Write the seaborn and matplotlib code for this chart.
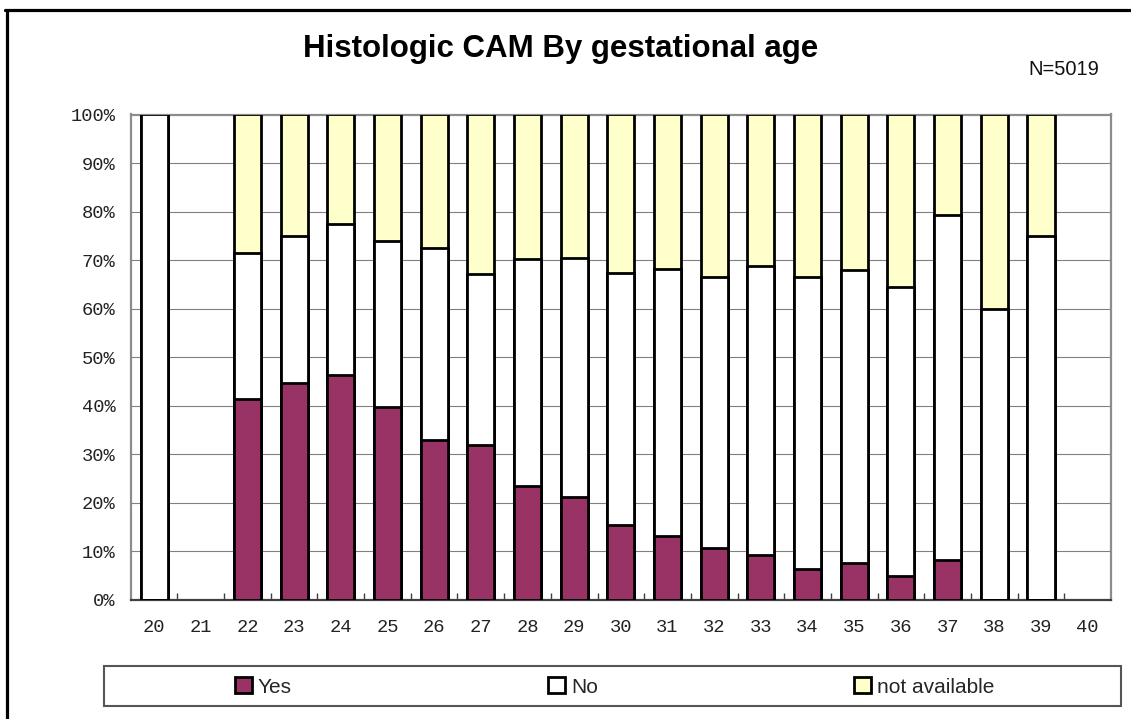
import matplotlib
matplotlib.use("Agg")
import matplotlib.pyplot as plt
import seaborn as sns
import pandas as pd
import numpy as np
from matplotlib.patches import Patch, Rectangle
from matplotlib.lines import Line2D
from matplotlib.ticker import FixedLocator, PercentFormatter

# ---- data (percent) ----
weeks = [str(w) for w in range(20, 41)]
present = ["20", "22", "23", "24", "25", "26", "27", "28", "29", "30",
           "31", "32", "33", "34", "35", "36", "37", "38", "39"]
yes_pct = [0.0, 41.3, 44.7, 46.3, 39.7, 33.0, 32.0, 23.5, 21.3, 15.4,
           13.2, 10.7, 9.3, 6.3, 7.6, 5.0, 8.2, 0.0, 0.0]
no_pct = [100.0, 30.1, 30.2, 31.2, 34.3, 39.6, 35.2, 46.7, 49.1, 52.0,
          54.9, 55.9, 59.5, 60.3, 60.3, 59.4, 71.0, 59.9, 75.0]
na_pct = [100.0 - y - n for y, n in zip(yes_pct, no_pct)]
series_names = ["Yes", "No", "not available"]
series_colors = ["#993366", "#FFFFFF", "#FFFFCC"]
title_text = "Histologic CAM By gestational age"
n_text = "N=5019"

df = pd.DataFrame({"week": present, "Yes": yes_pct, "No": no_pct,
                   "NA": na_pct})
df["cum_yes"] = df["Yes"]
df["cum_no"] = df["Yes"] + df["No"]
df["cum_na"] = df["Yes"] + df["No"] + df["NA"]

sns.set_style("white")
plt.rcParams["font.family"] = ["Liberation Sans", "DejaVu Sans"]

W, H = 1131, 719
fig = plt.figure(figsize=(W / 100, H / 100), dpi=100)
fig.patch.set_facecolor("white")

left, right, top, bottom = 130.7, 1111, 114.5, 600
ax = fig.add_axes([left / W, 1 - bottom / H, (right - left) / W, (bottom - top) / H])

bar_kw = dict(order=weeks, width=0.58, edgecolor="black", linewidth=2.0,
              saturation=1, ax=ax, zorder=3)
for col, c in zip(["cum_na", "cum_no", "cum_yes"], series_colors[::-1]):
    sns.barplot(data=df, x="week", y=col, color=c, **bar_kw)

ax.set_xlim(-0.5, len(weeks) - 0.5)
ax.set_ylim(0, 100)
ax.set_xlabel("")
ax.set_ylabel("")

# gridlines
ax.yaxis.set_major_locator(FixedLocator(np.arange(0, 101, 10)))
ax.yaxis.set_major_formatter(PercentFormatter(decimals=0))
ax.grid(axis="y", color="#808080", linewidth=0.8, zorder=0)
ax.grid(axis="x", visible=False)
ax.set_axisbelow(True)

# spines
for s in ["top", "right", "left"]:
    ax.spines[s].set_visible(True)
    ax.spines[s].set_color("#8c8c8c")
    ax.spines[s].set_linewidth(1.6)
ax.spines["bottom"].set_color("#404040")
ax.spines["bottom"].set_linewidth(1.6)

mono = "Liberation Mono"
ax.tick_params(axis="y", which="major", direction="out", length=3, width=1,
               color="#404040", pad=8, labelsize=13.5, labelcolor="#222222")
ax.tick_params(axis="x", which="major", length=0, pad=14, labelsize=13.5,
               labelcolor="#222222")
ax.set_xticks(np.arange(len(weeks)))
ax.set_xticklabels(weeks)
ax.xaxis.set_minor_locator(FixedLocator(np.arange(0.5, len(weeks) - 1, 1)))
ax.tick_params(axis="x", which="minor", direction="in", length=5, width=1,
               color="#404040", bottom=True)
for lab in ax.get_xticklabels() + ax.get_yticklabels():
    lab.set_fontfamily(mono)

# title and N
fig.text(561 / W, 1 - 57 / H, title_text, ha="center", va="baseline",
         fontsize=22.5, fontweight="bold", color="black")
fig.text(1099 / W, 1 - 75 / H, n_text, ha="right", va="baseline",
         fontsize=14.5, color="#111111")

# legend
handles = [Patch(facecolor=c, edgecolor="black", linewidth=2.0)
           for c in series_colors]
fig.legend(handles, series_names, loc="center left",
           bbox_to_anchor=(235 / W, 1 - 687 / H), ncol=3, frameon=False,
           handlelength=0.8, handleheight=0.8, handletextpad=0.3,
           columnspacing=12.3, borderpad=0, borderaxespad=0, fontsize=15)
fig.add_artist(Rectangle((104 / W, 1 - 706 / H), 1017 / W, 40 / H,
                         transform=fig.transFigure, fill=False,
                         edgecolor="#555555", linewidth=1.5))

# outer frame (top and left only, as in the reference crop)
fig.add_artist(Line2D([5 / W, 1.0], [1 - 10 / H, 1 - 10 / H],
                      transform=fig.transFigure, color="black", linewidth=2.3))
fig.add_artist(Line2D([7 / W, 7 / W], [0, 1 - 10 / H],
                      transform=fig.transFigure, color="black", linewidth=2.3))

fig.savefig("out.png", dpi=100)
